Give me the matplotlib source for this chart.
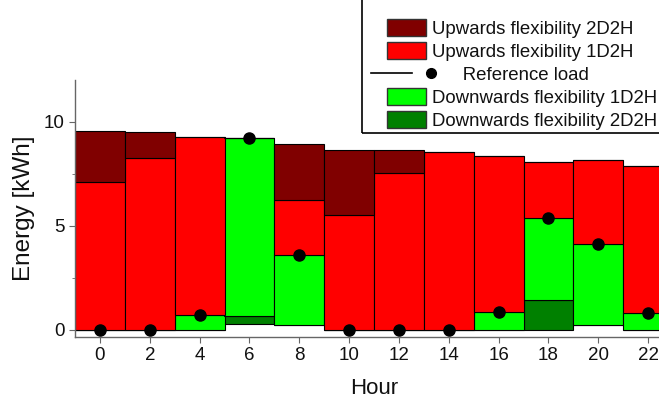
import matplotlib.pyplot as plt
import numpy as np
from matplotlib.lines import Line2D
from matplotlib.patches import Patch, Rectangle
from matplotlib.ticker import MultipleLocator

plt.rcParams['font.family'] = ['Liberation Sans', 'DejaVu Sans']

# flexibility per 2-hour block [kWh]
hours = [0, 2, 4, 6, 8, 10, 12, 14, 16, 18, 20, 22]
ref_load = [0, 0, 0.70, 9.22, 3.59, 0, 0, 0, 0.86, 5.38, 4.10, 0.81]
min_load = [0, 0, 0, 0.25, 0.22, 0, 0, 0, 0, 0, 0.22, 0]
down_2d2h = [0, 0, 0, 0.42, 0, 0, 0, 0, 0, 1.42, 0, 0]
up_1d2h = [7.09, 8.24, 8.55, 0, 2.64, 5.51, 7.52, 8.53, 7.48, 2.70, 4.06, 7.05]
up_2d2h = [2.48, 1.24, 0, 0, 2.68, 3.12, 1.11, 0, 0, 0, 0, 0]

c_up2 = '#800000'
c_up1 = '#ff0000'
c_down1 = '#00ff00'
c_down2 = '#008000'

x = np.array(hours)
base = np.array(min_load)
d2 = np.array(down_2d2h)
ref = np.array(ref_load)
d1 = ref - base - d2
u1 = np.array(up_1d2h)
u2 = np.array(up_2d2h)

W, H = 659, 401
fig = plt.figure(figsize=(W / 100, H / 100), dpi=100)
ax = fig.add_axes([75 / W, 64 / H, 598 / W, 257 / H])

kw = dict(width=2, align='center', edgecolor='black', linewidth=0.8)
ax.bar(x, d2, bottom=base, color=c_down2, **kw)
ax.bar(x, d1, bottom=base + d2, color=c_down1, **kw)
ax.bar(x, u1, bottom=ref, color=c_up1, **kw)
ax.bar(x, u2, bottom=ref + u1, color=c_up2, **kw)
ax.plot(x, ref, 'o', color='black', markersize=8, zorder=5, clip_on=False)

ax.set_xlim(-1, 23)
ax.set_ylim(-0.36, 12)
ax.set_xticks(hours)
ax.yaxis.set_major_locator(MultipleLocator(5))
ax.yaxis.set_minor_locator(MultipleLocator(2.5))
for s in ['top', 'right']:
    ax.spines[s].set_visible(False)
for s in ['left', 'bottom']:
    ax.spines[s].set_color('#666666')
    ax.spines[s].set_linewidth(1.0)
ax.tick_params(which='both', direction='out', color='#666666', labelsize=13.5,
               labelcolor='#111111')
ax.tick_params(which='major', length=4.5, pad=3)
ax.tick_params(which='minor', length=2.5)

ax.set_xlabel('Hour', fontsize=16, color='#111111', va='center')
ax.set_ylabel('Energy [kWh]', fontsize=17.5, color='#111111', va='center')
ax.xaxis.set_label_coords(0.5, -51 / 257)
ax.yaxis.set_label_coords(-51 / 598, 0.5)


class RefHandler:
    # line on the left, dot pushed to the right of the usual handle box
    def legend_artist(self, legend, orig_handle, fontsize, handlebox):
        x0, y0 = -handlebox.xdescent, -handlebox.ydescent
        w, h = handlebox.width, handlebox.height
        ym = y0 + h / 2
        line = Line2D([x0 - 0.4 * w, x0 + 0.63 * w], [ym, ym], color='black', lw=1.2)
        dot = Line2D([x0 + 1.13 * w], [ym], marker='o', color='black', markersize=7)
        handlebox.add_artist(line)
        handlebox.add_artist(dot)
        return line


ref_handle = Line2D([], [], color='black')
handles = [Patch(facecolor=c_up2, edgecolor='#333333'),
           Patch(facecolor=c_up1, edgecolor='#333333'),
           ref_handle,
           Patch(facecolor=c_down1, edgecolor='#333333'),
           Patch(facecolor=c_down2, edgecolor='#333333')]
labels = ['Upwards flexibility 2D2H', 'Upwards flexibility 1D2H',
          '      Reference load',
          'Downwards flexibility 1D2H', 'Downwards flexibility 2D2H']
leg = fig.legend(handles, labels, loc='lower left',
                 bbox_to_anchor=(387 / W, (H - 130) / H),
                 bbox_transform=fig.transFigure, fontsize=13.4, frameon=False,
                 handlelength=2.1, handleheight=1.05, handletextpad=0.3,
                 labelspacing=0.22, borderpad=0, borderaxespad=0,
                 handler_map={ref_handle: RefHandler()})
for t in leg.get_texts():
    t.set_color('#111111')

# legend frame drawn by hand so it can sit flush with the figure edge
fig.patches.append(Rectangle((362 / W, (H - 133) / H), 300 / W, 140 / H,
                             transform=fig.transFigure, fill=False,
                             edgecolor='black', linewidth=1.2, zorder=10))

fig.savefig('out.png', dpi=100)
